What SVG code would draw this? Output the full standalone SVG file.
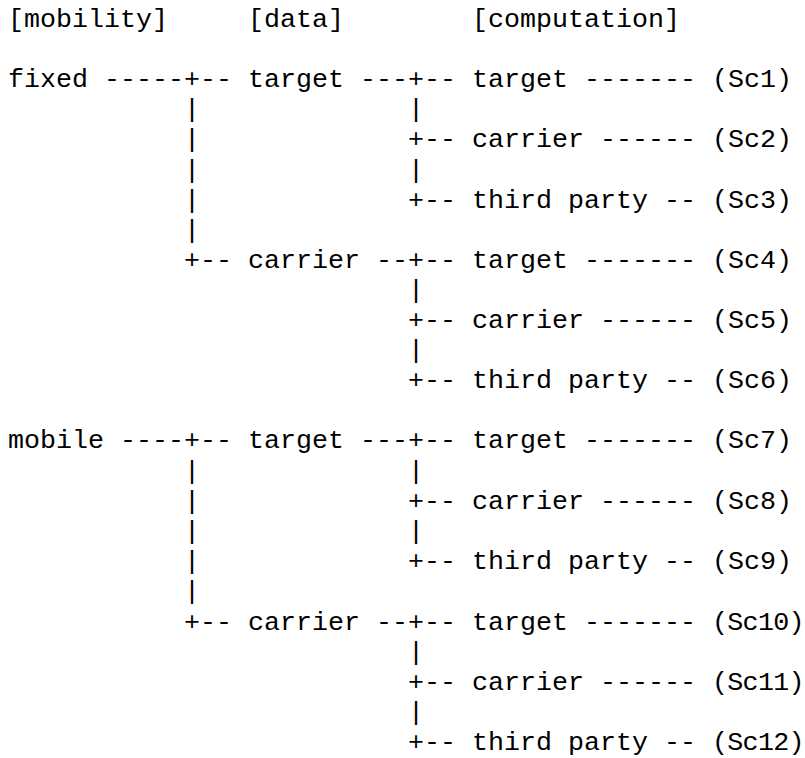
<svg xmlns="http://www.w3.org/2000/svg" width="805" height="758" viewBox="0 0 805 758">
<style>
text{font-family:"Liberation Mono","Courier New",monospace;font-size:26.667px;fill:#000;white-space:pre}
.tight{letter-spacing:-0.7px}
</style>
<rect width="805" height="758" fill="#fff"/>
<g id="headers">
<text x="8" y="27">[mobility]</text>
<text x="248" y="27">[data]</text>
<text x="472" y="27">[computation]</text>
</g>
<g id="connectors">
<text x="104" y="87.2">-----+--</text><text x="360" y="87.2">---+--</text><text x="584" y="87.2">-------</text>
<text x="184" y="117.3">|</text><text x="408" y="117.3">|</text>
<text x="184" y="147.4">|</text><text x="408" y="147.4">+--</text><text x="600" y="147.4">------</text>
<text x="184" y="177.5">|</text><text x="408" y="177.5">|</text>
<text x="184" y="207.6">|</text><text x="408" y="207.6">+--</text><text x="664" y="207.6">--</text>
<text x="184" y="237.7">|</text>
<text x="184" y="267.8">+--</text><text x="376" y="267.8">--+--</text><text x="584" y="267.8">-------</text>
<text x="408" y="297.9">|</text>
<text x="408" y="328">+--</text><text x="600" y="328">------</text>
<text x="408" y="358.1">|</text>
<text x="408" y="388.2">+--</text><text x="664" y="388.2">--</text>
<text x="120" y="448.4">----+--</text><text x="360" y="448.4">---+--</text><text x="584" y="448.4">-------</text>
<text x="184" y="478.5">|</text><text x="408" y="478.5">|</text>
<text x="184" y="508.6">|</text><text x="408" y="508.6">+--</text><text x="600" y="508.6">------</text>
<text x="184" y="538.7">|</text><text x="408" y="538.7">|</text>
<text x="184" y="568.8">|</text><text x="408" y="568.8">+--</text><text x="664" y="568.8">--</text>
<text x="184" y="598.9">|</text>
<text x="184" y="629.5">+--</text><text x="376" y="629.5">--+--</text><text x="584" y="629.5">-------</text>
<text x="408" y="659.6">|</text>
<text x="408" y="689.7">+--</text><text x="600" y="689.7">------</text>
<text x="408" y="719.8">|</text>
<text x="408" y="749.9">+--</text><text x="664" y="749.9">--</text>
</g>
<g id="m-fixed"><text x="8" y="87.2">fixed</text></g>
<g id="m-mobile"><text x="8" y="448.4">mobile</text></g>
<g id="d-fixed-target"><text x="248" y="87.2">target</text></g>
<g id="d-fixed-carrier"><text x="248" y="267.8">carrier</text></g>
<g id="d-mobile-target"><text x="248" y="448.4">target</text></g>
<g id="d-mobile-carrier"><text x="248" y="629.5">carrier</text></g>
<g id="c1"><text x="472" y="87.2">target</text></g>
<g id="c2"><text x="472" y="147.4">carrier</text></g>
<g id="c3"><text x="472" y="207.6">third party</text></g>
<g id="c4"><text x="472" y="267.8">target</text></g>
<g id="c5"><text x="472" y="328">carrier</text></g>
<g id="c6"><text x="472" y="388.2">third party</text></g>
<g id="c7"><text x="472" y="448.4">target</text></g>
<g id="c8"><text x="472" y="508.6">carrier</text></g>
<g id="c9"><text x="472" y="568.8">third party</text></g>
<g id="c10"><text x="472" y="629.5">target</text></g>
<g id="c11"><text x="472" y="689.7">carrier</text></g>
<g id="c12"><text x="472" y="749.9">third party</text></g>
<g id="sc1"><text x="712" y="87.2">(Sc1)</text></g>
<g id="sc2"><text x="712" y="147.4">(Sc2)</text></g>
<g id="sc3"><text x="712" y="207.6">(Sc3)</text></g>
<g id="sc4"><text x="712" y="267.8">(Sc4)</text></g>
<g id="sc5"><text x="712" y="328">(Sc5)</text></g>
<g id="sc6"><text x="712" y="388.2">(Sc6)</text></g>
<g id="sc7"><text x="712" y="448.4">(Sc7)</text></g>
<g id="sc8"><text x="712" y="508.6">(Sc8)</text></g>
<g id="sc9"><text x="712" y="568.8">(Sc9)</text></g>
<g id="sc10"><text class="tight" x="712" y="629.5">(Sc10)</text></g>
<g id="sc11"><text class="tight" x="712" y="689.7">(Sc11)</text></g>
<g id="sc12"><text class="tight" x="712" y="749.9">(Sc12)</text></g>
</svg>
